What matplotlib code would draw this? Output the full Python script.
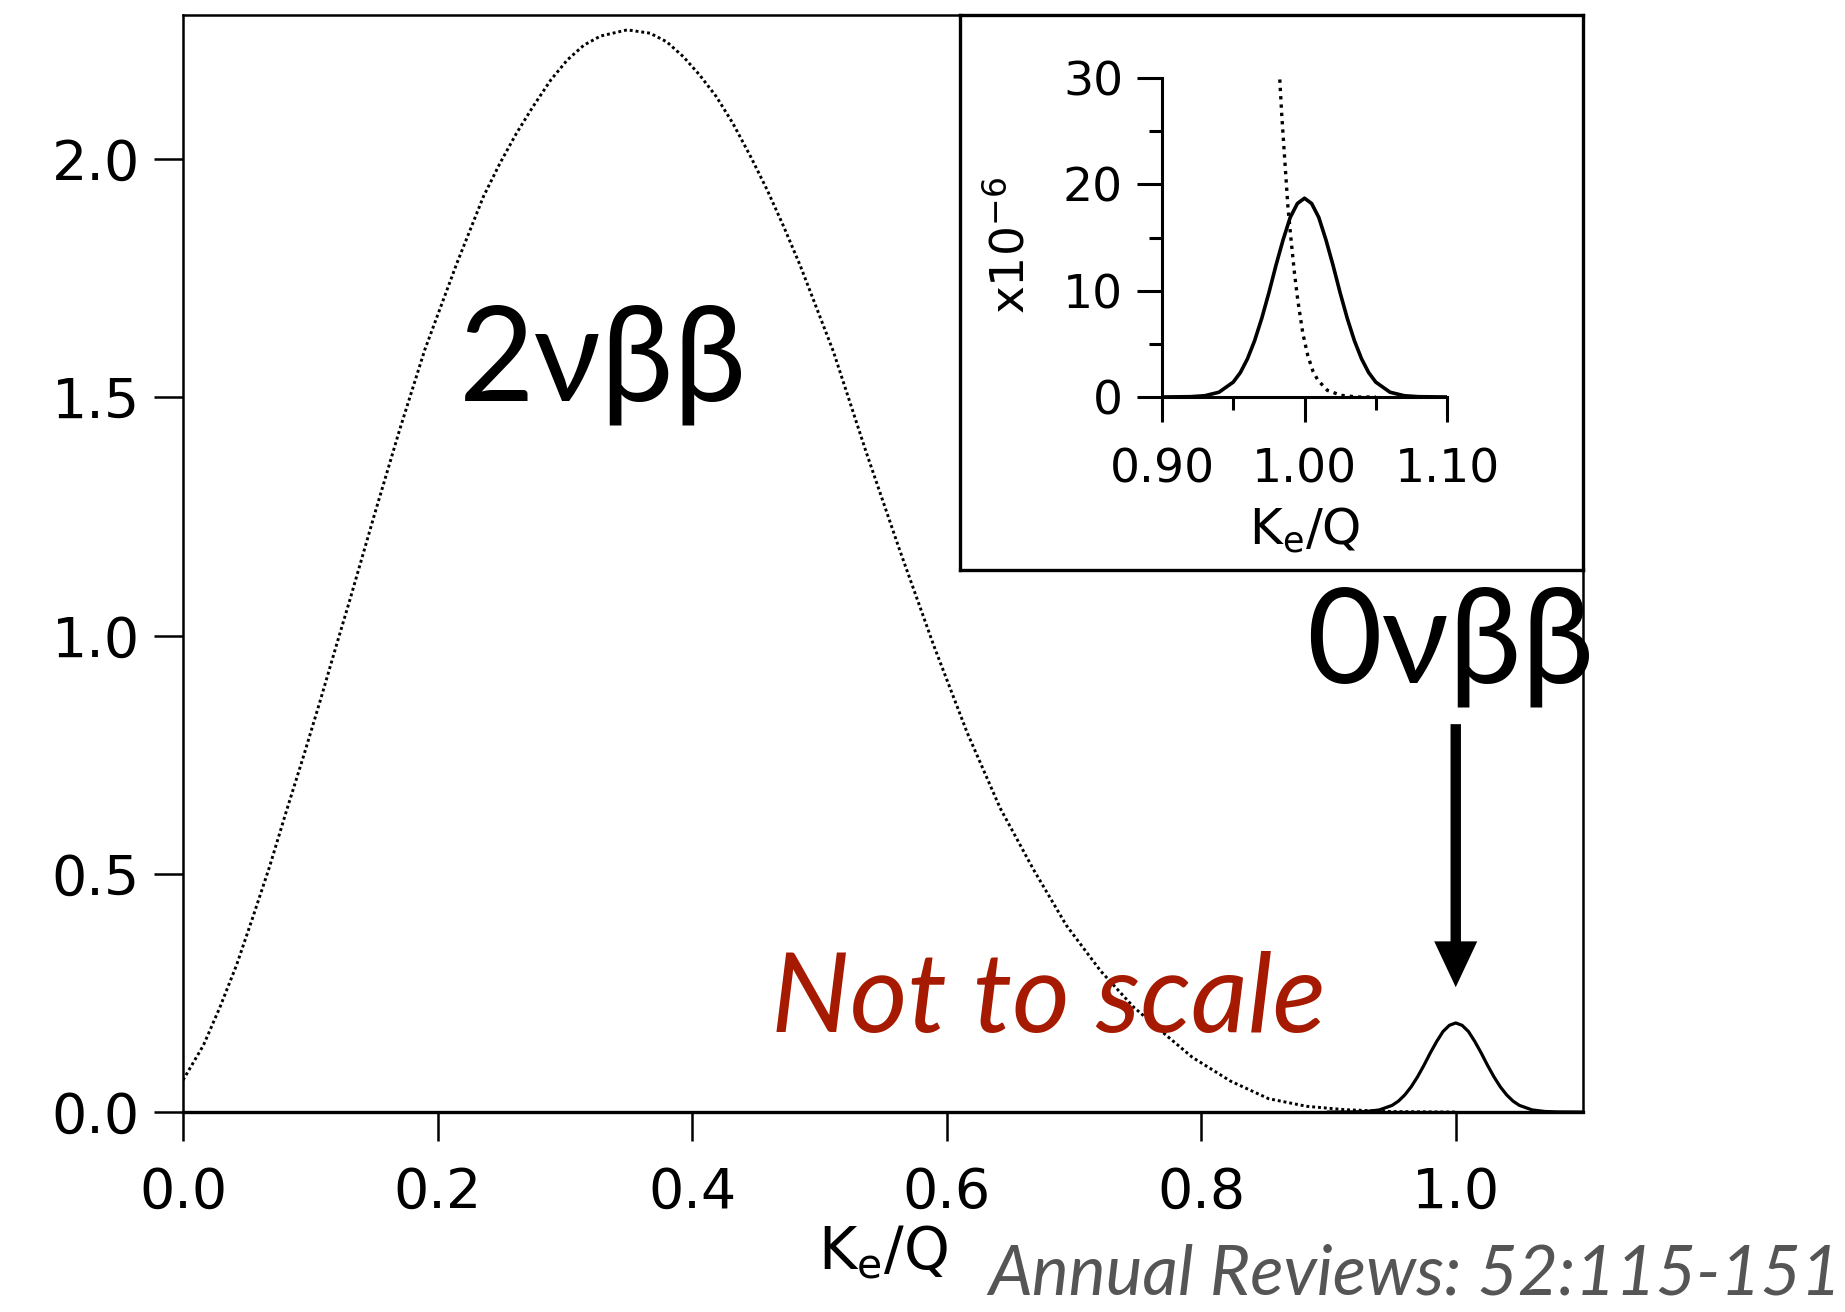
import matplotlib
matplotlib.use('Agg')
import matplotlib.pyplot as plt
import numpy as np

# 2nu-bb spectrum (dotted)
ke_2nu = [0.0, 0.016, 0.029, 0.042, 0.055, 0.068, 0.0815, 0.0946, 0.108, 0.121, 0.131,
          0.15, 0.17, 0.19, 0.215, 0.236, 0.249, 0.262, 0.275, 0.289, 0.302, 0.315, 0.328,
          0.349, 0.367, 0.380, 0.393, 0.406, 0.419, 0.432, 0.446, 0.459, 0.472, 0.485,
          0.511, 0.537, 0.563, 0.590, 0.616, 0.642, 0.668, 0.694, 0.721, 0.747, 0.773,
          0.793, 0.823, 0.853, 0.883, 0.913, 0.95, 1.0]
rate_2nu = [0.067, 0.14, 0.22, 0.308, 0.41, 0.515, 0.634, 0.746, 0.865, 0.984, 1.074,
            1.25, 1.43, 1.60, 1.78, 1.921, 1.991, 2.054, 2.11, 2.166, 2.208, 2.239, 2.258,
            2.271, 2.264, 2.246, 2.215, 2.176, 2.131, 2.075, 2.005, 1.935, 1.858, 1.776,
            1.596, 1.383, 1.180, 0.978, 0.797, 0.638, 0.510, 0.392, 0.296, 0.22, 0.16,
            0.115, 0.065, 0.028, 0.012, 0.005, 0.001, 0.0]

# 0nu-bb peak, in units of 1e-6 (inset scale)
peak_x = [0.90, 0.92, 0.93, 0.94, 0.95, 0.955, 0.96, 0.965, 0.97, 0.975, 0.98, 0.985, 0.99, 0.995, 1.0,
          1.005, 1.01, 1.015, 1.02, 1.025, 1.03, 1.035, 1.04, 1.045, 1.05, 1.06, 1.07, 1.08, 1.10]
peak_y = [0.0, 0.03, 0.12, 0.45, 1.4, 2.3, 3.6, 5.3, 7.4, 9.8, 12.4, 14.8, 16.9, 18.2, 18.7,
          18.2, 16.9, 14.8, 12.4, 9.8, 7.4, 5.3, 3.6, 2.3, 1.4, 0.45, 0.12, 0.03, 0.0]
peak_scale_main = 0.01   # "not to scale" factor used in the main panel

# 2nu-bb tail near the endpoint, in units of 1e-6 (inset)
tail_x = [0.9815, 0.9826, 0.984, 0.986, 0.9884, 0.9907, 0.993, 0.9953, 0.9988, 1.0023, 1.006,
          1.0093, 1.016, 1.0256, 1.037, 1.05]
tail_y = [33.0, 30.0, 26.6, 22.6, 17.8, 14.6, 11.6, 9.1, 6.0, 3.9, 2.4, 1.6, 0.63, 0.16, 0.0, 0.0]

main_xticks = [0.0, 0.2, 0.4, 0.6, 0.8, 1.0]
main_yticks = [0.0, 0.5, 1.0, 1.5, 2.0]
ins_xticks = [0.90, 1.00, 1.10]
ins_yticks = [0, 10, 20, 30]

plt.rcParams['font.family'] = ['DejaVu Sans']
big_font = ['Lato', 'DejaVu Sans']

fig = plt.figure(figsize=(18.45, 13.12), dpi=100)

# main panel
ax = fig.add_axes([0.0992, 0.1524, 0.7588, 0.8361])
ax.plot(ke_2nu, rate_2nu, ls=(0, (1, 1.0)), lw=2.1, color='black')
ax.plot(peak_x, np.array(peak_y) * peak_scale_main, color='black', lw=2.3)
ax.set_xlim(0, 1.1)
ax.set_ylim(0, 2.302)
ax.set_xticks(main_xticks)
ax.set_xticklabels([f'{v:.1f}' for v in main_xticks])
ax.set_yticks(main_yticks)
ax.set_yticklabels([f'{v:.1f}' for v in main_yticks])
ax.tick_params(direction='out', length=21, width=1.8, labelsize=40)
ax.tick_params(axis='x', pad=18)
ax.tick_params(axis='y', pad=10)
for s in ax.spines.values():
    s.set_linewidth(1.8)
ax.spines['bottom'].set_linewidth(2.4)
ax.set_xlabel(r'K$_{\mathrm{e}}$/Q', fontsize=42, labelpad=2)

ax.text(0.217, 1.494, '2νββ', family=big_font, fontsize=94, ha='left', va='baseline')
ax.text(0.8825, 0.902, '0νββ', family=big_font, fontsize=94, ha='left', va='baseline')
ax.text(0.462, 0.168, 'Not to scale', family=big_font, style='italic', fontsize=80,
        color='#A51A00', ha='left', va='baseline')
ax.annotate('', xy=(1.0, 0.262), xytext=(1.0, 0.814),
            arrowprops=dict(facecolor='black', edgecolor='none', width=7.5,
                            headwidth=31, headlength=33, shrink=0))

fig.text(0.5355, 0.0137, 'Annual Reviews: 52:115-151', family=big_font, style='italic',
         fontsize=50, color='#555555', ha='left', va='baseline')

# inset frame
frame = fig.add_axes([0.5203, 0.5655, 0.3377, 0.4230])
frame.set_xticks([])
frame.set_yticks([])
for s in frame.spines.values():
    s.set_linewidth(2.4)

# inset
ins = fig.add_axes([0.6298, 0.6974, 0.1545, 0.2431])
ins.patch.set_alpha(0)
ins.plot(peak_x, peak_y, color='black', lw=2.6)
ins.plot(tail_x, tail_y, ls=(0, (1, 1.5)), lw=2.4, color='black')
ins.set_xlim(0.9, 1.1)
ins.set_ylim(0, 30)
ins.spines['top'].set_visible(False)
ins.spines['right'].set_visible(False)
for s in ['left', 'bottom']:
    ins.spines[s].set_linewidth(2.2)
ins.set_xticks(ins_xticks)
ins.set_xticklabels([f'{v:.2f}' for v in ins_xticks])
ins.set_xticks([0.95, 1.05], minor=True)
ins.set_yticks(ins_yticks)
ins.set_yticks([5, 15, 25], minor=True)
ins.tick_params(which='major', direction='out', length=18, width=2.2, labelsize=34)
ins.tick_params(which='minor', direction='out', length=9.4, width=2.2)
ins.tick_params(axis='x', which='major', pad=18)
ins.tick_params(axis='y', which='major', pad=10)
ins.set_xlabel(r'K$_{\mathrm{e}}$/Q', fontsize=36, labelpad=10)
ins.text(-0.533, 0.476, r'x10$^{-6}$', transform=ins.transAxes, rotation=90,
         fontsize=34, ha='center', va='center')

fig.savefig('out.png', dpi=100)
